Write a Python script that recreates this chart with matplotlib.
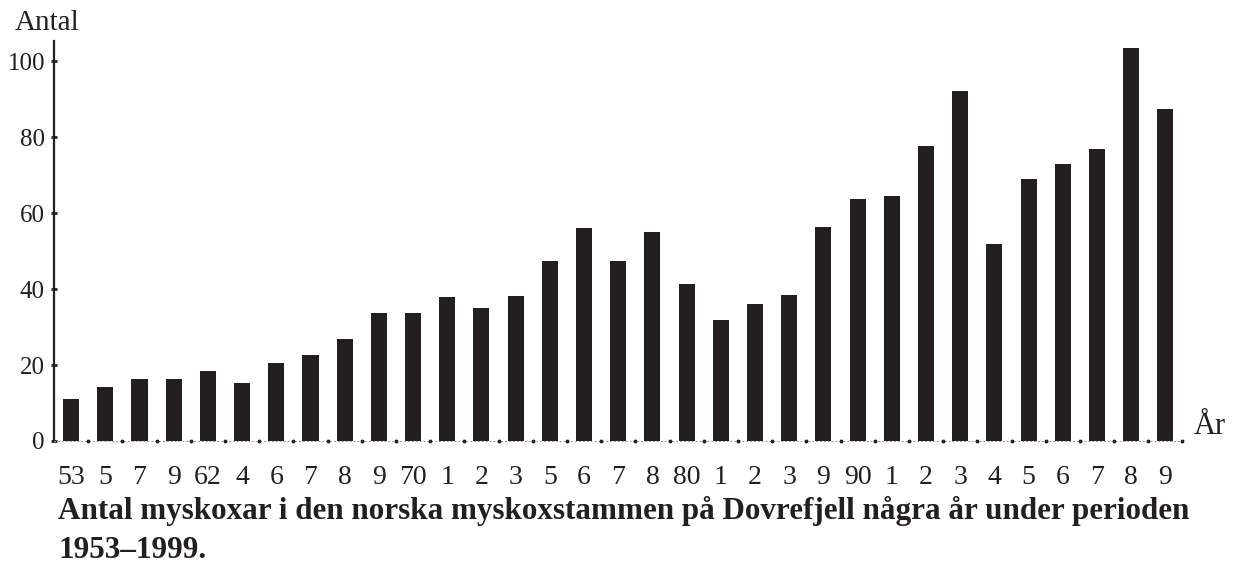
import numpy as np
import matplotlib.pyplot as plt

plt.rcParams['font.family'] = ['Liberation Serif', 'DejaVu Serif']

# year labels as printed under the bars
years = ['53', '5', '7', '9', '62', '4', '6', '7', '8', '9',
         '70', '1', '2', '3', '5', '6', '7', '8',
         '80', '1', '2', '3', '9',
         '90', '1', '2', '3', '4', '5', '6', '7', '8', '9']
# number of musk oxen
antal = [11, 14.3, 16.2, 16.2, 18.4, 15.3, 20.4, 22.6, 26.8, 33.8,
         33.8, 37.8, 34.9, 38.1, 47.4, 56, 47.4, 55,
         41.2, 31.9, 36, 38.3, 56.3,
         63.7, 64.6, 77.7, 92.2, 51.9, 69, 73, 76.9, 103.5, 87.3]

ink = '#231f20'

fig = plt.figure(figsize=(12.36, 5.69), dpi=100)
ax = fig.add_axes([0.0437, 0.225, 0.913, 0.703])

x = np.arange(len(antal))
ax.bar(x, antal, width=0.47, color=ink, zorder=2)

ax.set_xlim(-0.5, 32.5)
ax.set_ylim(0, 105.3)

ax.spines['top'].set_visible(False)
ax.spines['right'].set_visible(False)
ax.spines['left'].set_color(ink)
ax.spines['left'].set_linewidth(1.6)
ax.spines['bottom'].set_color('#999999')
ax.spines['bottom'].set_linewidth(0.7)
ax.spines['bottom'].set_linestyle((0, (1, 3)))
# dots between the bars on the zero line
ax.plot(x + 0.5, np.zeros(len(x)), linestyle='none', marker='o', ms=1.8,
        color=ink, clip_on=False, zorder=3)

ax.set_yticks([0, 20, 40, 60, 80, 100])
ax.tick_params(axis='y', direction='inout', length=5, width=2, colors=ink,
               labelsize=18, pad=4)
ax.set_xticks(x)
ax.set_xticklabels(years)
ax.tick_params(axis='x', length=0, labelsize=20, pad=17, colors=ink)

fig.text(0.012, 0.948, 'Antal', fontsize=21, color=ink)
fig.text(0.966, 0.225, 'År', fontsize=22, color=ink, va='bottom')

fig.text(0.047, 0.128,
         'Antal myskoxar i den norska myskoxstammen på Dovrefjell några år under perioden\n1953–1999.',
         fontsize=22.4, fontweight='bold', color=ink, linespacing=1.45, va='top')

plt.savefig('out.png', dpi=100)
